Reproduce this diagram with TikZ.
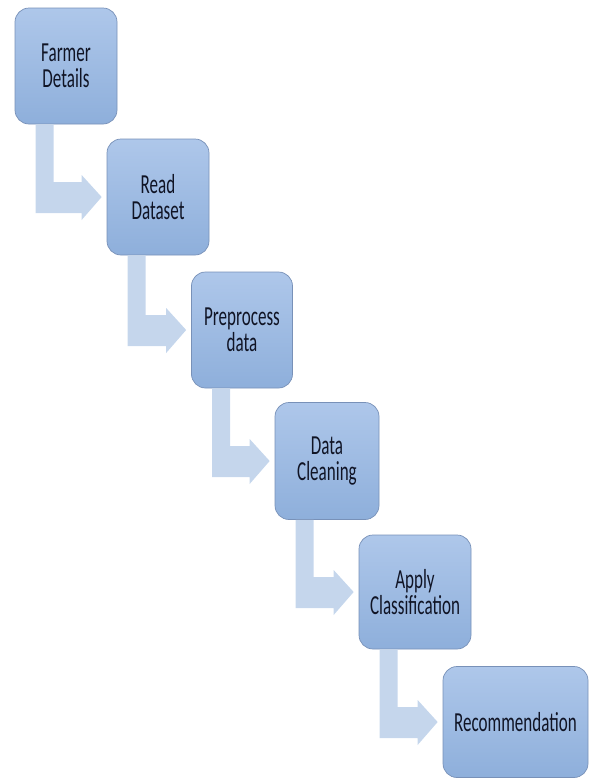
\documentclass[tikz,border=0pt]{standalone}
\usepackage{fontspec}
\setmainfont{Carlito}[FakeStretch=0.62]
\usetikzlibrary{calc}
\definecolor{boxtop}{HTML}{AEC7EA}
\definecolor{boxbot}{HTML}{8EAFDB}
\definecolor{boxline}{HTML}{7891B8}
\definecolor{arrowc}{HTML}{C5D6EC}
\definecolor{txt}{HTML}{101425}
\newcommand\bendarrow[2]{%
  \path[bendshape] let \p1=(#1.south west), \p2=($(#2.west)+(-5pt,0)$) in
    (\x1+21pt,\y1) -- (\x1+39pt,\y1) -- (\x1+39pt,\y2+15pt) -- (\x2-20pt,\y2+15pt)
    -- (\x2-20pt,\y2+22pt) -- (\x2,\y2) -- (\x2-20pt,\y2-23pt) -- (\x2-20pt,\y2-16pt)
    -- (\x1+21pt,\y2-16pt) -- cycle;}
\begin{document}
\begin{tikzpicture}[x=1pt,y=-1pt,
  stepbox/.style={draw=boxline, line width=0.7pt, rounded corners=14pt,
    top color=boxtop, bottom color=boxbot, inner sep=0pt, align=center,
    font=\fontsize{27.5}{26.5}\selectfont, text=txt},
  bendshape/.style={fill=arrowc, draw=none}]
\useasboundingbox (0,0) rectangle (590,780);
\node[stepbox, minimum width=102pt, minimum height=116pt] (b1) at (66,66) {Farmer\\Details};
\node[stepbox, minimum width=102pt, minimum height=116pt] (b2) at (158,197) {Read\\Dataset};
\node[stepbox, minimum width=101pt, minimum height=116pt] (b3) at (242,330) {Preprocess\\data};
\node[stepbox, minimum width=104pt, minimum height=117pt] (b4) at (327,461) {Data\\Cleaning};
\node[stepbox, minimum width=112pt, minimum height=114pt] (b5) at (415,592) {Apply\\Classification};
\node[stepbox, minimum width=145pt, minimum height=111pt] (b6) at (515.5,722) {Recommendation};
\bendarrow{b1}{b2}
\bendarrow{b2}{b3}
\bendarrow{b3}{b4}
\bendarrow{b4}{b5}
\bendarrow{b5}{b6}
\end{tikzpicture}
\end{document}
